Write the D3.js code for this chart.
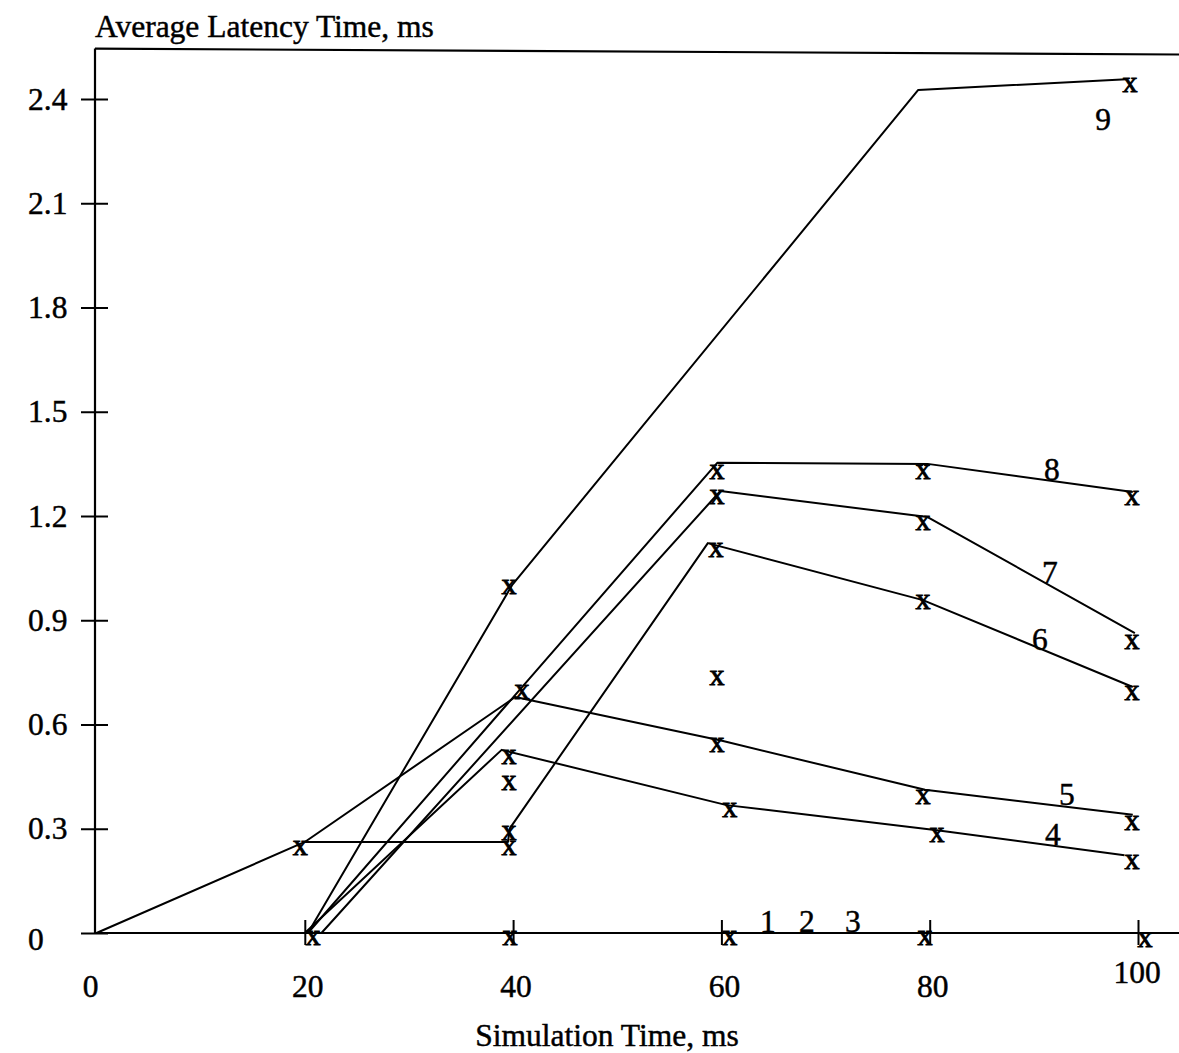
<!DOCTYPE html>
<html>
<head>
<meta charset="utf-8">
<script src="https://cdn.jsdelivr.net/npm/d3@7"></script>
<style>
  html, body { margin: 0; padding: 0; background: #fff; }
  svg { display: block; }
  text { font-family: "Liberation Serif", "Times New Roman", serif; fill: #000; stroke: #000; stroke-width: 0.45px; }
</style>
</head>
<body>
<svg id="chart" width="1179" height="1053"></svg>
<script>
// ---------- data ----------
const xTickValues = [20, 40, 60, 80, 100];
const xTickLabels = ["20", "40", "60", "80", "100"];
const yTickValues = [0, 0.3, 0.6, 0.9, 1.2, 1.5, 1.8, 2.1, 2.4];
const yTickLabels = ["0", "0.3", "0.6", "0.9", "1.2", "1.5", "1.8", "2.1", "2.4"];

const xTitle = "Simulation Time, ms";
const yTitle = "Average Latency Time, ms";

// polylines [time, latency]
const line1 = [[20, 0], [100, 0]];
const line2 = [[20, 0], [100, 0]];
const line3 = [[20, 0], [100, 0]];
const line4 = [[20, 0], [38.9, 0.527], [60.5, 0.368], [80.7, 0.296], [98.7, 0.224]];
const line5 = [[0, 0], [20, 0.262], [40.2, 0.679], [60.06, 0.553], [79.55, 0.412], [99.5, 0.340]];
const line6 = [[20, 0.262], [39.5, 0.262], [39.7, 0.302], [58.7, 1.122], [79.35, 0.958], [99.5, 0.708]];
const line7 = [[21.6, 0], [59.9, 1.272], [79.8, 1.197], [99.7, 0.863]];
const line8 = [[20.3, 0], [59.6, 1.353], [79.8, 1.350], [99.5, 1.269]];
const line9 = [[20.3, 0], [39.9, 1.001], [78.9, 2.426], [98.9, 2.457]];
const lines = [line1, line2, line3, line4, line5, line6, line7, line8, line9];

// "x" markers [time, latency]
const markers20 = [[19.57, 0.245], [20.79, -0.014]];
const markers40 = [[39.6, 0.996], [40.86, 0.694], [39.6, 0.506], [39.6, 0.432], [39.6, 0.288], [39.6, 0.245], [39.7, -0.014]];
const markers60 = [[59.57, 1.327], [59.57, 1.255], [59.48, 1.102], [59.57, 0.734], [59.57, 0.541], [60.8, 0.354], [60.8, -0.014]];
const markers80 = [[79.35, 1.327], [79.35, 1.180], [79.35, 0.953], [79.35, 0.391], [80.7, 0.282], [79.55, -0.014]];
const markers100 = [[99.23, 2.440], [99.43, 1.252], [99.43, 0.837], [99.43, 0.691], [99.43, 0.317], [99.43, 0.204], [100.67, -0.020]];
const markers = [].concat(markers20, markers40, markers60, markers80, markers100);

// curve labels
const curveLabels = ["1", "2", "3", "4", "5", "6", "7", "8", "9"];
const curveLabelX = [64.47, 68.21, 72.63, 91.83, 93.18, 90.59, 91.55, 91.74, 96.64];
const curveLabelY = [0.003, 0.003, 0.003, 0.253, 0.368, 0.814, 1.007, 1.304, 2.311];

// ---------- drawing ----------
const svg = d3.select("#chart");
const W = 1179, H = 1053;
const FS = 31.5;

const x = d3.scaleLinear().domain([0, 100]).range([96.5, 1138]);
const y = d3.scaleLinear().domain([0, 2.4]).range([933, 99]);
const axisX = 95;
const topY0 = y(2.545), topY1 = y(2.528);

svg.append("rect").attr("width", W).attr("height", H).attr("fill", "#fff");

const g = svg.append("g");

// frame top line
g.append("line").attr("x1", axisX).attr("x2", W).attr("y1", topY0).attr("y2", topY1)
  .attr("stroke", "#000").attr("stroke-width", 2.2);

// y axis
const yAxis = d3.axisLeft(y).tickValues(yTickValues).tickFormat("").tickSizeOuter(0).tickSizeInner(14);
const yg = g.append("g").attr("transform", `translate(${axisX},0)`).call(yAxis);
yg.select(".domain").remove();
yg.selectAll(".tick line").attr("x2", -14).attr("x1", 13).attr("stroke", "#000").attr("stroke-width", 2);
g.append("line").attr("x1", axisX).attr("x2", axisX).attr("y1", topY0).attr("y2", y(0))
  .attr("stroke", "#000").attr("stroke-width", 2.2);

// x axis
g.append("line").attr("x1", axisX).attr("x2", W).attr("y1", y(0)).attr("y2", y(0))
  .attr("stroke", "#000").attr("stroke-width", 2.2);
const xAxis = d3.axisBottom(x).tickValues(xTickValues).tickFormat("").tickSizeOuter(0).tickSizeInner(12);
const xg = g.append("g").attr("transform", `translate(0,${y(0)})`).call(xAxis);
xg.select(".domain").remove();
xg.selectAll(".tick line").attr("y1", -13).attr("y2", 12).attr("stroke", "#000").attr("stroke-width", 2);

// y tick labels
yTickValues.forEach((v, i) => {
  g.append("text").attr("x", 28).attr("y", y(v) + (v === 0 ? 17 : 10.5))
    .attr("font-size", FS).text(yTickLabels[i]);
});
// x tick labels
g.append("text").attr("x", x(0) - 6).attr("y", 997).attr("font-size", FS)
  .attr("text-anchor", "middle").text("0");
xTickValues.forEach((v, i) => {
  g.append("text").attr("x", x(v) + (v === 100 ? -1 : 3)).attr("y", v === 100 ? 983 : 997)
    .attr("font-size", FS).attr("text-anchor", "middle").text(xTickLabels[i]);
});

// titles
g.append("text").attr("x", axisX).attr("y", 37).attr("font-size", FS).text(yTitle);
g.append("text").attr("x", 607).attr("y", 1046).attr("font-size", FS)
  .attr("text-anchor", "middle").text(xTitle);

// lines
const lineGen = d3.line().x(d => x(d[0])).y(d => y(d[1]));
g.selectAll("path.series").data(lines).enter().append("path")
  .attr("class", "series")
  .attr("d", lineGen)
  .attr("fill", "none").attr("stroke", "#000").attr("stroke-width", 2)
  .attr("stroke-linejoin", "round");

// markers
const MFS = 30;
g.selectAll("text.marker").data(markers).enter().append("text")
  .attr("class", "marker")
  .attr("x", d => x(d[0])).attr("y", d => y(d[1]) + 0.224 * MFS)
  .attr("font-size", MFS).attr("text-anchor", "middle")
  .style("stroke-width", "0.9px").text("x");

// curve labels
curveLabels.forEach((t, i) => {
  g.append("text").attr("x", x(curveLabelX[i])).attr("y", y(curveLabelY[i]))
    .attr("font-size", FS).attr("text-anchor", "middle").text(t);
});
</script>
</body>
</html>
